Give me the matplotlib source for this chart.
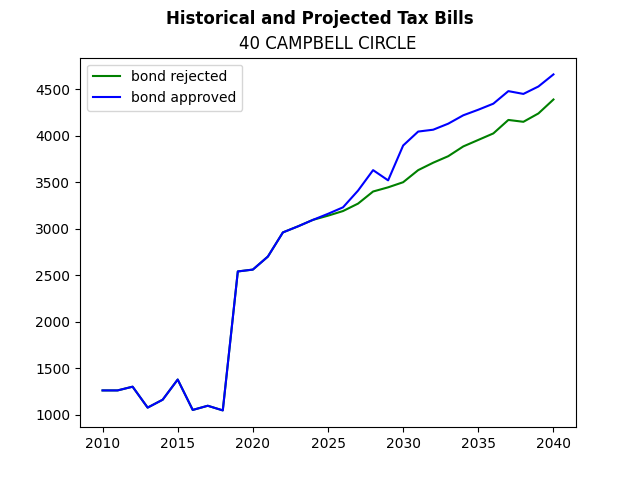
import matplotlib
matplotlib.use("Agg")
import matplotlib.pyplot as plt

years = list(range(2010, 2041))
rejected = [1260, 1260, 1300, 1075, 1160, 1377, 1050, 1095, 1045, 2540,
            2560, 2700, 2960, 3025, 3095, 3140, 3190, 3270, 3400, 3445,
            3500, 3630, 3710, 3780, 3885, 3955, 4025, 4170, 4150, 4240,
            4390]
approved = [1260, 1260, 1300, 1075, 1160, 1377, 1050, 1095, 1045, 2540,
            2560, 2700, 2960, 3025, 3095, 3160, 3230, 3410, 3630, 3520,
            3895, 4045, 4065, 4130, 4220, 4280, 4345, 4480, 4450, 4530,
            4660]

fig = plt.figure(figsize=(6.4, 4.8), dpi=100)
plt.plot(years, rejected, color='g', label='bond rejected')
plt.plot(years, approved, color='b', label='bond approved')
plt.suptitle("Historical and Projected Tax Bills", fontweight='bold')
plt.title("40 CAMPBELL CIRCLE")
plt.legend(loc='upper left')
plt.savefig("out.png")
